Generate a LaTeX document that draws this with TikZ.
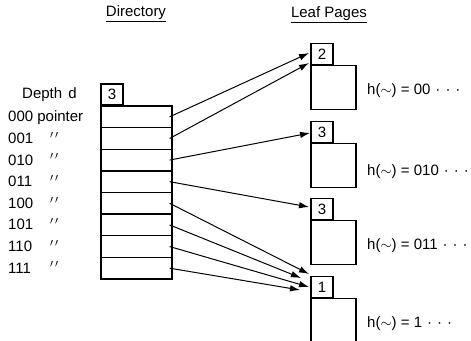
\documentclass[tikz,border=0pt]{standalone}
\usepackage{fontspec}
\setmainfont{Liberation Sans}
\usetikzlibrary{arrows.meta}
\newcommand\mydts{\hspace{5pt}·\hspace{5pt}·\hspace{5pt}·}
\newcommand\mydit{${}^{\prime\,\prime}$}
\begin{document}
\begin{tikzpicture}[x=1pt,y=-1pt,
  every node/.style={font=\fontsize{15}{17}\selectfont, inner sep=0pt},
  cell/.style={draw, line width=1.3pt, minimum width=71pt, minimum height=21.6pt},
  tag/.style={draw, line width=1.3pt, minimum width=22pt, minimum height=21pt},
  page/.style={draw, line width=1.3pt, minimum width=45pt, minimum height=44pt},
  lbl/.style={anchor=west, text height=10pt, text depth=0pt},
  ptr/.style={line width=1pt, -{Latex[length=10pt,width=6.5pt]}}
]
\path[use as bounding box] (0,0) rectangle (471,340);
\clip (0,0) rectangle (471,340);

% titles
\node (dir) at (136,14) {\underline{Directory}};
\node (leaf) at (329,15) {\underline{Leaf Pages}};

% directory
\node[tag] (dtag) at (112,94.5) {3};
\foreach \i in {0,...,7}{
  \node[cell] (r\i) at (136.5,{106+21.625*(\i+0.5)}) {};
}

% left labels
\node[lbl] (depth) at (22,93) {Depth\hspace{2pt} d};
\node[lbl] (b0) at (8,116.8) {000 pointer};
\foreach \i/\b in {1/001,2/010,3/011,4/100,5/101,6/110,7/111}{
  \node[lbl] (b\i) at (8,{106+21.625*(\i+0.5)}) {\b};
  \node[lbl] (q\i) at (50,{106+21.625*(\i+0.5)}) {\mydit};
}

% leaf pages
\node[tag] (t1) at (322,54) {2};
\node[page,anchor=north west] (p1) at (t1.south west) {};
\node[tag] (t2) at (322,132) {3};
\node[page,anchor=north west] (p2) at (t2.south west) {};
\node[tag] (t3) at (322,209) {3};
\node[page,anchor=north west] (p3) at (t3.south west) {};
\node[tag] (t4) at (322,287) {1};
\node[page,anchor=north west] (p4) at (t4.south west) {};

% hash labels
\node[lbl] (h1) at (367,89) {h($\sim$) = 00\mydts};
\node[lbl] (h2) at (367,170) {h($\sim$) = 010\mydts};
\node[lbl] (h3) at (367,244) {h($\sim$) = 011\mydts};
\node[lbl] (h4) at (367,322) {h($\sim$) = 1\mydts};

% arrow ends
\coordinate (e0) at (309,53);
\coordinate (e1) at (309,63);
\coordinate (e2) at (310,133);
\coordinate (e3) at (309,207);
\coordinate (e4) at (309,274);
\coordinate (e5) at (301,278);
\coordinate (e6) at (309,287);
\coordinate (e7) at (300,290);

\foreach \i in {0,...,7}{
  \draw[ptr] ([xshift=-3pt]r\i.east) -- (e\i);
}
\end{tikzpicture}
\end{document}
